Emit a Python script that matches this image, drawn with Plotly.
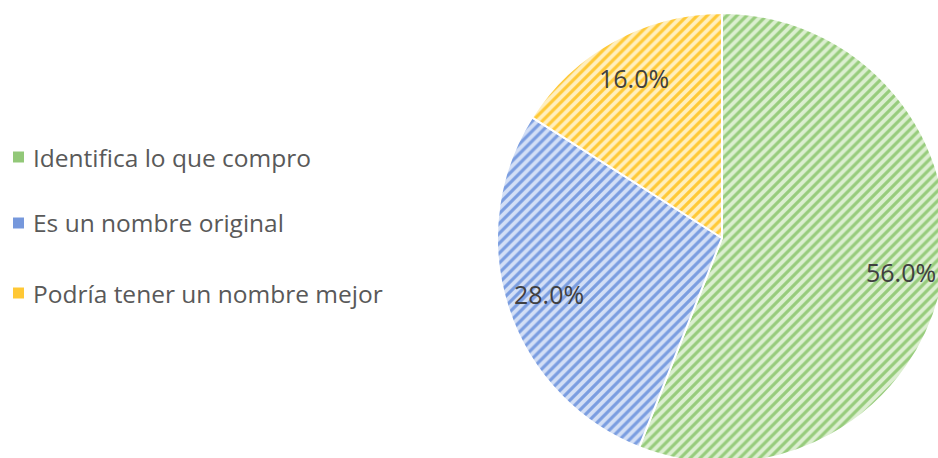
import math
import plotly.graph_objects as go

labels = ["Identifica lo que compro", "Es un nombre original", "Podría tener un nombre mejor"]
values = [56.0, 28.0, 16.0]
stripe_colors = ["#97cc7c", "#7a9de0", "#ffc936"]
back_colors = ["#dcefd0", "#d3dff6", "#ffefbf"]
legend_swatch = ["#92c878", "#7698dc", "#ffc835"]

W, H = 960, 470
cx, cy, R = 722, 238, 225

fig = go.Figure()
fig.add_trace(go.Pie(
    labels=labels,
    values=values,
    sort=False,
    direction="clockwise",
    rotation=0,
    showlegend=False,
    textinfo="none",
    marker=dict(
        colors=stripe_colors,
        line=dict(color="white", width=2),
        pattern=dict(shape="/", fgcolor=stripe_colors, bgcolor=back_colors, size=7, solidity=0.45),
    ),
    hoverinfo="label+percent",
    domain=dict(x=[(cx - R) / W, (cx + R) / W], y=[(H - cy - R) / H, (H - cy + R) / H]),
))

# data labels placed along each slice bisector (computed from the values)
total = sum(values)
cum = 0.0
for v in values:
    mid = (cum + v / 2) / total * 2 * math.pi
    cum += v
    lx = cx + 0.81 * R * math.sin(mid)
    ly = cy - 0.81 * R * math.cos(mid)
    fig.add_annotation(text=f"{v / total * 100:.1f}%", xref="paper", yref="paper",
                       x=lx / W, y=(H - ly) / H, xanchor="center", yanchor="middle",
                       showarrow=False, font=dict(family="Open Sans", size=25, color="#404040"))

legend_y = [157, 223, 293]
for lab, col, yy in zip(labels, legend_swatch, legend_y):
    fig.add_shape(type="rect", xref="paper", yref="paper",
                  x0=13 / W, x1=24 / W, y0=(H - yy - 5.5) / H, y1=(H - yy + 5.5) / H,
                  fillcolor=col, line=dict(width=0))
    fig.add_annotation(text=lab, xref="paper", yref="paper", x=31 / W, y=(H - yy) / H,
                       xanchor="left", yanchor="middle", showarrow=False,
                       font=dict(family="Open Sans", size=24.5, color="#595959"))

fig.update_layout(
    width=W, height=H,
    margin=dict(l=0, r=0, t=0, b=0),
    paper_bgcolor="white", plot_bgcolor="white",
)

fig.write_html("out.html", config={"displayModeBar": False},
               post_script="document.body.style.margin='0';document.body.style.overflow='hidden';")
